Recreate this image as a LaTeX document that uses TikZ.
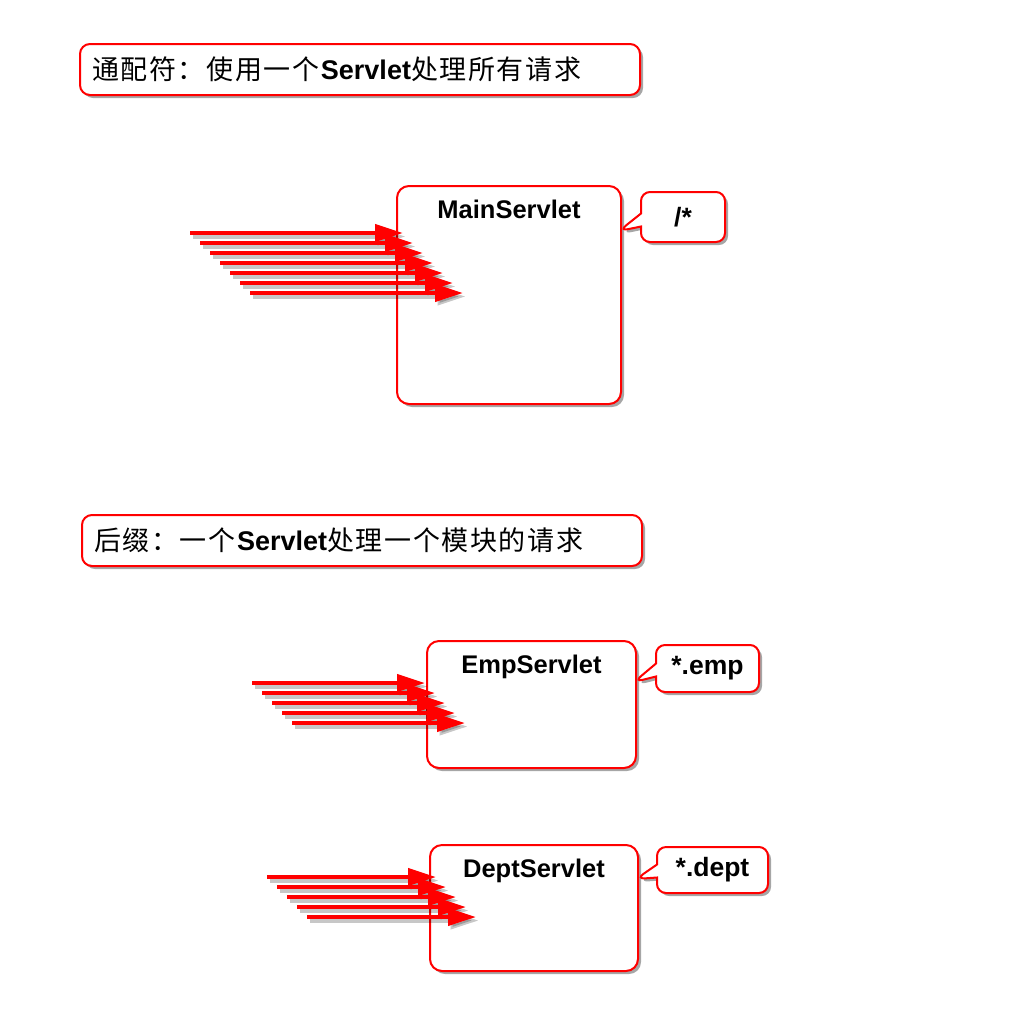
\documentclass[tikz,border=0pt]{standalone}
\usepackage{fontspec}
\setmainfont{Liberation Sans}
\newfontfamily\cjk[LetterSpace=6]{Noto Sans CJK SC}
\usetikzlibrary{shapes.callouts,shadows,arrows.meta}
\tikzset{
  shad/.style={drop shadow={shadow xshift=3pt,shadow yshift=-3pt,opacity=0.35,fill=black}},
  titlebox/.style={draw=red,line width=2pt,fill=white,rounded corners=10pt,shad,
    minimum width=560pt,minimum height=51pt,text width=536pt,inner xsep=12pt,align=left,
    font=\fontsize{27}{30}\selectfont},
  servbox/.style={draw=red,line width=2pt,fill=white,rounded corners=12pt,shad},
  servlabel/.style={anchor=north,yshift=-11pt,font=\fontsize{25.5}{30}\selectfont\bfseries},
  pattern box/.style={rectangle callout,draw=red,line width=2pt,fill=white,rounded corners=9pt,shad,
    callout pointer width=13pt,font=\fontsize{26.5}{30}\selectfont\bfseries},
  req/.style={draw=red,line width=4pt,-{Triangle[length=28pt,width=17pt]}},
  reqshadow/.style={draw=black,opacity=0.22,line width=4pt,-{Triangle[length=28pt,width=17pt]},
    transform canvas={shift={(2.5pt,-3.5pt)}}},
}
\begin{document}
\begin{tikzpicture}[x=1pt,y=-1pt]
\useasboundingbox[fill=white] (0,0) rectangle (1024,1018);

% titles
\node[titlebox] (t1) at (360,69.5) {{\cjk 通配符：使用一个}\textbf{Servlet}{\cjk 处理所有请求}};
\node[titlebox] (t2) at (362,540.5) {{\cjk 后缀：一个}\textbf{Servlet}{\cjk 处理一个模块的请求}};

% main servlet
\node[servbox,minimum width=224pt,minimum height=218pt,
  label={[servlabel]north:MainServlet}] (main) at (509,295) {};
\node[pattern box,minimum width=84pt,minimum height=50pt,
  callout absolute pointer={([yshift=-46pt,xshift=-3pt]main.north east)}] (mainpat) at (683,217) {/*};

% emp servlet
\node[servbox,minimum width=209pt,minimum height=127pt,
  label={[servlabel]north:EmpServlet}] (emp) at (531.5,704.5) {};
\node[pattern box,minimum width=103pt,minimum height=47pt,
  callout absolute pointer={([yshift=-42pt,xshift=-3pt]emp.north east)}] (emppat) at (707.5,668.5) {*.emp};

% dept servlet
\node[servbox,minimum width=208pt,minimum height=126pt,
  label={[servlabel]north:DeptServlet}] (dept) at (534,908) {};
\node[pattern box,minimum width=111pt,minimum height=46pt,
  callout absolute pointer={([yshift=-35pt,xshift=-3pt]dept.north east)}] (deptpat) at (712.5,870) {*.dept};

% request arrows
\foreach \i in {0,...,6} {
  \coordinate (ms\i) at (190+10*\i,233+10*\i);
  \coordinate (me\i) at (403+10*\i,233+10*\i);
  \draw[reqshadow] (ms\i) -- (me\i);
  \draw[req] (ms\i) -- (me\i);
}
\foreach \i in {0,...,4} {
  \coordinate (es\i) at (252+10*\i,683+10*\i);
  \coordinate (ee\i) at (425+10*\i,683+10*\i);
  \draw[reqshadow] (es\i) -- (ee\i);
  \draw[req] (es\i) -- (ee\i);
}
\foreach \i in {0,...,4} {
  \coordinate (ds\i) at (267+10*\i,877+10*\i);
  \coordinate (de\i) at (436+10*\i,877+10*\i);
  \draw[reqshadow] (ds\i) -- (de\i);
  \draw[req] (ds\i) -- (de\i);
}
\end{tikzpicture}
\end{document}
